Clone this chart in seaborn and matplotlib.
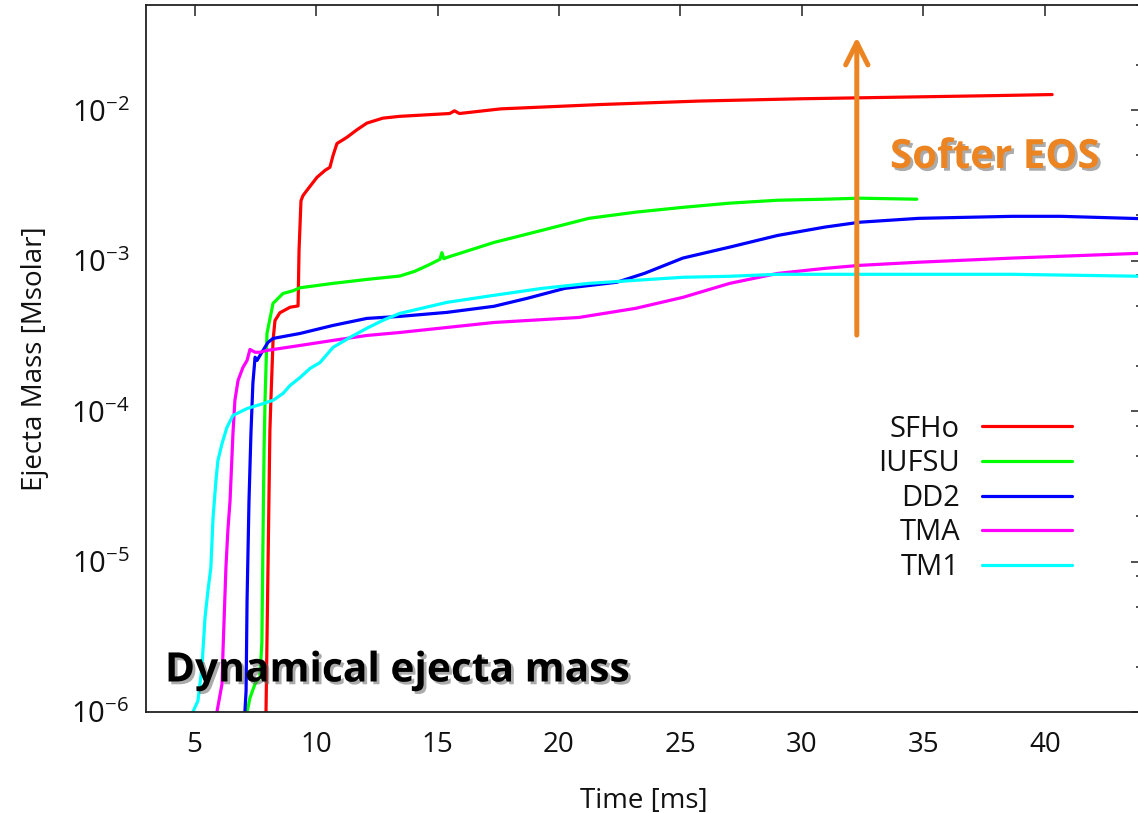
import numpy as np
import pandas as pd
import matplotlib
matplotlib.use("Agg")
import matplotlib.pyplot as plt
import matplotlib.patheffects as pe
from matplotlib.ticker import FixedLocator, LogLocator, NullFormatter
import seaborn as sns

# ---------------- data ----------------
eos_names = ["SFHo", "IUFSU", "DD2", "TMA", "TM1"]
eos_colors = ["#ff0000", "#00ff00", "#0000ff", "#ff00ff", "#00ffff"]

sfho_t = [7.94, 8.10, 8.14, 8.23, 8.31, 8.51, 8.93, 9.26, 9.30, 9.38, 9.46, 9.63,
          10.04, 10.37, 10.57, 10.70, 10.86, 11.27, 11.68, 12.09, 12.75, 13.45,
          15.5, 15.7, 15.9, 17.6, 21.7, 25.8, 29.9, 34.0, 38.0, 40.3]
sfho_m = [1.0e-6, 7.4e-5, 1.17e-4, 2.95e-4, 4.0e-4, 4.5e-4, 4.9e-4, 5.0e-4, 1.17e-3,
          2.5e-3, 2.7e-3, 2.94e-3, 3.58e-3, 3.98e-3, 4.17e-3, 5.0e-3, 6.0e-3, 6.6e-3,
          7.4e-3, 8.2e-3, 8.85e-3, 9.1e-3, 9.5e-3, 9.9e-3, 9.5e-3, 1.02e-2, 1.09e-2,
          1.15e-2, 1.19e-2, 1.22e-2, 1.25e-2, 1.27e-2]

iufsu_t = [7.16, 7.28, 7.49, 7.69, 7.77, 7.81, 7.86, 7.90, 7.98, 8.23, 8.64, 9.05,
           9.34, 10.70, 12.09, 13.45, 14.07, 14.60, 15.10, 15.18, 15.26, 15.39,
           17.32, 19.30, 21.23, 23.16, 25.10, 27.03, 29.0, 30.94, 32.38, 34.73]
iufsu_m = [1.0e-6, 1.24e-6, 1.54e-6, 1.70e-6, 2.9e-6, 1.17e-5, 5.5e-5, 1.17e-4,
           3.28e-4, 5.2e-4, 6.05e-4, 6.3e-4, 6.6e-4, 7.06e-4, 7.5e-4, 7.9e-4, 8.5e-4,
           9.3e-4, 1.02e-3, 1.13e-3, 1.03e-3, 1.05e-3, 1.32e-3, 1.59e-3, 1.91e-3,
           2.10e-3, 2.26e-3, 2.41e-3, 2.52e-3, 2.56e-3, 2.60e-3, 2.56e-3]

dd2_t = [7.07, 7.12, 7.16, 7.24, 7.32, 7.40, 7.49, 7.57, 7.77, 8.02, 8.23, 9.34,
         10.70, 12.09, 13.45, 15.39, 17.32, 18.68, 20.24, 22.38, 23.53, 25.10, 27.03,
         29.0, 30.94, 32.38, 34.81, 38.68, 40.65, 44.0]
dd2_m = [1.0e-6, 1.38e-6, 5.5e-6, 2.54e-5, 7.1e-5, 1.53e-4, 2.28e-4, 2.17e-4, 2.46e-4,
         2.86e-4, 3.04e-4, 3.28e-4, 3.71e-4, 4.13e-4, 4.26e-4, 4.53e-4, 4.97e-4,
         5.61e-4, 6.54e-4, 7.18e-4, 8.24e-4, 1.04e-3, 1.23e-3, 1.47e-3, 1.67e-3,
         1.80e-3, 1.91e-3, 1.97e-3, 1.97e-3, 1.90e-3]

tma_t = [5.92, 6.13, 6.17, 6.29, 6.37, 6.46, 6.58, 6.66, 6.79, 6.99, 7.16, 7.28, 7.49,
         7.69, 7.98, 9.34, 10.70, 12.09, 13.45, 17.32, 20.82, 23.16, 25.10, 27.03, 29.0,
         30.94, 32.38, 34.81, 38.68, 44.0]
tma_m = [1.0e-6, 1.54e-6, 2.55e-6, 9.1e-6, 1.61e-5, 2.54e-5, 7.1e-5, 1.18e-4, 1.60e-4,
         1.95e-4, 2.17e-4, 2.57e-4, 2.46e-4, 2.46e-4, 2.53e-4, 2.73e-4, 2.95e-4,
         3.18e-4, 3.33e-4, 3.88e-4, 4.19e-4, 4.82e-4, 5.70e-4, 7.06e-4, 8.22e-4,
         8.88e-4, 9.3e-4, 9.76e-4, 1.04e-3, 1.12e-3]

tm1_t = [4.93, 5.14, 5.30, 5.43, 5.55, 5.67, 5.76, 5.88, 5.96, 6.13, 6.33, 6.58, 7.16,
         7.81, 8.23, 8.64, 8.93, 9.34, 9.75, 10.16, 10.70, 11.40, 12.09, 12.75, 13.45,
         15.39, 17.32, 19.30, 21.23, 23.16, 25.10, 27.03, 29.0, 34.81, 38.68, 44.0]
tm1_m = [1.0e-6, 1.19e-6, 1.97e-6, 4.24e-6, 6.4e-6, 9.1e-6, 1.96e-5, 3.45e-5, 4.69e-5,
         6.08e-5, 7.78e-5, 9.35e-5, 1.04e-4, 1.12e-4, 1.18e-4, 1.31e-4, 1.48e-4,
         1.67e-4, 1.92e-4, 2.10e-4, 2.65e-4, 3.09e-4, 3.55e-4, 4.01e-4, 4.46e-4,
         5.28e-4, 5.88e-4, 6.54e-4, 7.06e-4, 7.40e-4, 7.75e-4, 7.87e-4, 8.11e-4,
         8.11e-4, 8.11e-4, 7.87e-4]

x_ticks = [5, 10, 15, 20, 25, 30, 35, 40]

series_t = [sfho_t, iufsu_t, dd2_t, tma_t, tm1_t]
series_m = [sfho_m, iufsu_m, dd2_m, tma_m, tm1_m]

df = pd.concat(
    [pd.DataFrame({"t": t, "m": m, "eos": n}) for t, m, n in zip(series_t, series_m, eos_names)],
    ignore_index=True,
)

# ---------------- style ----------------
sns.set_style("white")
plt.rcParams["font.family"] = ["Open Sans", "DejaVu Sans"]
plt.rcParams["mathtext.default"] = "regular"

fig = plt.figure(figsize=(11.38, 8.13), dpi=100)
ax = fig.add_axes([146 / 1138, 101 / 813, 996 / 1138, 707 / 813])

sns.lineplot(data=df, x="t", y="m", hue="eos", hue_order=eos_names,
             palette=dict(zip(eos_names, eos_colors)), sort=False, estimator=None,
             linewidth=2.3, legend=False, ax=ax)

ax.set_yscale("log")
ax.set_xlim(3, 44)
ax.set_ylim(1e-6, 5e-2)
ax.xaxis.set_major_locator(FixedLocator(x_ticks))
ax.yaxis.set_major_locator(LogLocator(base=10, numticks=20))
ax.yaxis.set_minor_locator(LogLocator(base=10, subs=[2, 5, 8], numticks=20))
ax.yaxis.set_minor_formatter(NullFormatter())

for s in ax.spines.values():
    s.set_color("#222222")
    s.set_linewidth(1.3)
    s.set_visible(True)

ax.tick_params(which="both", direction="in", top=True, right=True, color="#222222",
               width=1.1)
ax.tick_params(which="major", length=8)
ax.tick_params(which="minor", length=4.5)
ax.tick_params(axis="x", which="major", labelsize=20, pad=14, labelcolor="#111111")
ax.tick_params(axis="y", which="major", labelsize=21, pad=12, labelcolor="#111111")

ax.set_xlabel("Time [ms]", fontsize=20, color="#111111", labelpad=20)
ax.set_ylabel("Ejecta Mass [Msolar]", fontsize=20, color="#111111", labelpad=16)

# legend (text first, line after)
handles = ax.get_lines()[:5]
leg = ax.legend(handles, eos_names, loc="upper right", bbox_to_anchor=(0.93, 0.4205),
                frameon=False, markerfirst=False, fontsize=21, handlelength=3.1,
                handletextpad=0.75, labelspacing=0.19, borderpad=0, borderaxespad=0)
for txt in leg.get_texts():
    txt.set_color("#111111")

# annotations
orange = "#EC8422"
ax.annotate("", xy=(32.26, 0.0306), xytext=(32.26, 3.2e-4),
            arrowprops=dict(arrowstyle="->,head_length=1.6,head_width=0.8",
                            color=orange, lw=3.6, shrinkA=0, shrinkB=0,
                            capstyle="round"))

shadow = [pe.withSimplePatchShadow(offset=(2, -2), shadow_rgbFace="#666666", alpha=0.55)]
ax.text(0.747, 0.7695, "Softer EOS", transform=ax.transAxes, fontsize=29,
        fontweight="bold", color=orange, va="baseline", ha="left", path_effects=shadow)
ax.text(0.019, 0.058, "Dynamical ejecta mass", transform=ax.transAxes, fontsize=29.3,
        fontweight="bold", color="black", va="center", ha="left", path_effects=shadow)

fig.savefig("out.png", dpi=100)
